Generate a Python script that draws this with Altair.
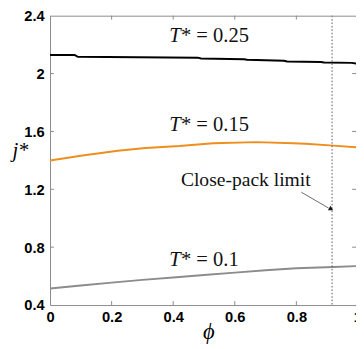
import altair as alt
import pandas as pd

# ---- data ----
phi_025 = [0, 0.08, 0.09, 0.48, 0.49, 0.63, 0.64, 0.76, 0.77, 0.88, 0.89, 0.98, 0.994]
j_025 = [2.129, 2.129, 2.116, 2.110, 2.104, 2.099, 2.095, 2.089, 2.083, 2.080, 2.077, 2.074, 2.069]

phi_015 = [0, 0.1, 0.22, 0.31, 0.42, 0.53, 0.67, 0.79, 0.83, 0.92, 0.994]
j_015 = [1.399, 1.432, 1.466, 1.486, 1.499, 1.519, 1.526, 1.519, 1.515, 1.502, 1.490]

phi_010 = [0, 0.1, 0.2, 0.3, 0.41, 0.5, 0.6, 0.7, 0.8, 0.92, 0.994]
j_010 = [0.515, 0.535, 0.555, 0.574, 0.592, 0.607, 0.624, 0.640, 0.654, 0.663, 0.669]

series_names = ["T=0.25", "T=0.15", "T=0.1"]
series_colors = ["#000000", "#EE8E1F", "#8C8C8C"]

label_phi = [0.387, 0.387, 0.387]
label_j = [2.218, 1.603, 0.668]
label_T = ["T", "T", "T"]
label_rest = ["* = 0.25", "* = 0.15", "* = 0.1"]

close_pack_phi = [0.916]
note_text = ["Close-pack limit"]
note_phi = [0.425]
note_j = [1.221]
arrow_phi = [0.816, 0.905]
arrow_j = [1.180, 1.070]
arrow_head_phi = [0.911]
arrow_head_j = [1.066]

x_ticks = [0.2, 0.4, 0.6, 0.8]
y_ticks = [0.8, 1.2, 1.6, 2.0]
x_labels = [0, 0.2, 0.4, 0.6, 0.8]
y_labels = [0.4, 0.8, 1.2, 1.6, 2.0, 2.4]

# ---- build tables ----
rows = []
for name, ph, jj in zip(series_names, [phi_025, phi_015, phi_010], [j_025, j_015, j_010]):
    for p, v in zip(ph, jj):
        rows.append({"phi": p, "j": v, "series": name})
lines_df = pd.DataFrame(rows)
labels_df = pd.DataFrame({"phi": label_phi, "j": label_j, "t": label_T, "rest": label_rest})

W, H = 313, 296
FRAME = "#8a8a8a"
xscale = alt.Scale(domain=[0, 0.9937], nice=False, zero=False)
yscale = alt.Scale(domain=[0.4, 2.4], nice=False, zero=False)

xaxis = alt.Axis(values=x_labels, format=".1~f", labelFont="Liberation Sans", labelFontWeight="bold",
                 labelFontSize=15, labelColor="#000", ticks=False, tickSize=0, labelPadding=5,
                 labelFlush=False, domainColor=FRAME, grid=False, title="ϕ",
                 titleFont="Liberation Serif", titleFontStyle="italic", titleFontWeight="normal",
                 titleFontSize=23, titleColor="#000", titleX=162, titleY=34,
                 titleBaseline="alphabetic", titleAlign="center")
yaxis = alt.Axis(values=y_labels, format=".2~f", labelFont="Liberation Sans", labelFontWeight="bold",
                 labelFontSize=15, labelColor="#000", ticks=False, tickSize=0, labelPadding=6,
                 domainColor=FRAME, grid=False, title="j*", titleAngle=0,
                 titleFont="Liberation Serif", titleFontStyle="italic", titleFontWeight="normal",
                 titleFontSize=21, titleColor="#000", titleX=-39, titleY=144,
                 titleAlign="left", titleBaseline="alphabetic")

X = lambda: alt.X("phi:Q", scale=xscale, axis=xaxis)
Y = lambda: alt.Y("j:Q", scale=yscale, axis=yaxis)

lines = alt.Chart(lines_df).mark_line(strokeWidth=2, clip=True).encode(
    x=X(), y=Y(),
    color=alt.Color("series:N", scale=alt.Scale(domain=series_names, range=series_colors), legend=None),
    detail="series:N",
)

dotted = alt.Chart(pd.DataFrame({"phi": close_pack_phi})).mark_rule(
    strokeDash=[1.5, 2], color="#555", strokeWidth=1).encode(x=X())

top_border = alt.Chart(pd.DataFrame({"a": [0]})).mark_rule(color=FRAME, strokeWidth=1).encode(
    x=alt.value(0), x2=alt.value(W), y=alt.value(0.5))

xt = pd.DataFrame({"phi": x_ticks})
yt = pd.DataFrame({"j": y_ticks})
tick_bottom = alt.Chart(xt).mark_rule(color=FRAME).encode(x=X(), y=alt.value(H), y2=alt.value(H - 4))
tick_top = alt.Chart(xt).mark_rule(color=FRAME).encode(x=X(), y=alt.value(0), y2=alt.value(4))
tick_left = alt.Chart(yt).mark_rule(color=FRAME).encode(y=Y(), x=alt.value(0), x2=alt.value(4))
tick_right = alt.Chart(yt).mark_rule(color=FRAME).encode(y=Y(), x=alt.value(W), x2=alt.value(W - 4))

one_label = alt.Chart(pd.DataFrame({"phi": [1.0], "t": ["1"]})).mark_text(
    font="Liberation Sans", fontWeight="bold", fontSize=15, baseline="top", color="#000").encode(
    x=X(), y=alt.value(H + 5), text="t:N")

lab_T = alt.Chart(labels_df).mark_text(font="Liberation Serif", fontStyle="italic", fontSize=21,
                                      align="left", baseline="alphabetic", color="#111").encode(
    x=X(), y=Y(), text="t:N")
lab_rest = alt.Chart(labels_df).mark_text(font="Liberation Serif", fontSize=21, dx=12,
                                         align="left", baseline="alphabetic", color="#111").encode(
    x=X(), y=Y(), text="rest:N")

note = alt.Chart(pd.DataFrame({"phi": note_phi, "j": note_j, "t": note_text})).mark_text(
    font="Liberation Serif", fontSize=20, align="left", baseline="alphabetic", color="#111").encode(
    x=X(), y=Y(), text="t:N")
arrow = alt.Chart(pd.DataFrame({"phi": arrow_phi, "j": arrow_j})).mark_line(
    color="#444", strokeWidth=0.8).encode(x=X(), y=Y())
head = alt.Chart(pd.DataFrame({"phi": arrow_head_phi, "j": arrow_head_j})).mark_point(
    shape="triangle", filled=True, size=28, angle=120, color="#111", opacity=1).encode(x=X(), y=Y())

chart = alt.layer(
    lines, dotted, top_border, tick_bottom, tick_top, tick_left, tick_right,
    one_label, lab_T, lab_rest, note, arrow, head
).properties(
    width=W, height=H,
    autosize=alt.AutoSizeParams(type="none"),
    padding={"left": 43, "top": 4, "right": 0, "bottom": 37},
).configure_view(stroke=None)

chart.save("out.html", embed_options={"renderer": "svg", "actions": False})
